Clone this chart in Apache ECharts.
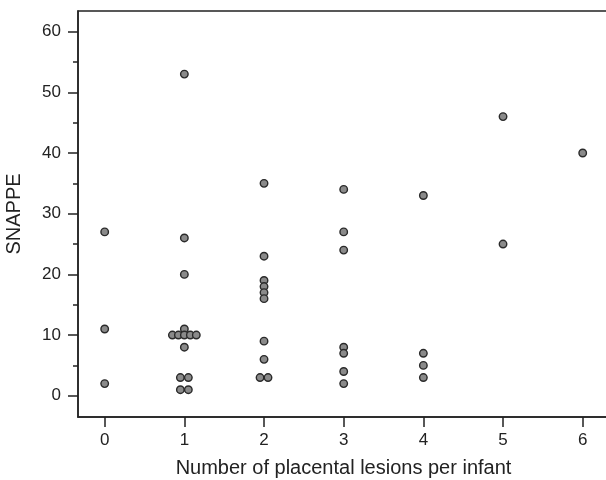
<!DOCTYPE html>
<html>
<head>
<meta charset="utf-8">
<style>html,body{margin:0;padding:0;background:#fff;}#c{width:606px;height:480px;}</style>
<script src="https://cdn.jsdelivr.net/npm/echarts@6/dist/echarts.min.js"></script>
</head>
<body>
<div id="c"></div>
<script>
// Number of placental lesions per infant (with small dodge offsets for overlapping points)
var lesions = [
  0, 0, 0,
  1, 1, 1, 1, 0.85, 0.925, 1, 1.075, 1.15, 1, 0.95, 1.05, 0.95, 1.05,
  2, 2, 2, 2, 2, 2, 2, 2, 1.95, 2.05,
  3, 3, 3, 3, 3, 3, 3,
  4, 4, 4, 4,
  5, 5,
  6
];
var snappe = [
  27, 11, 2,
  53, 26, 20, 11, 10, 10, 10, 10, 10, 8, 3, 3, 1, 1,
  35, 23, 19, 18, 17, 16, 9, 6, 3, 3,
  34, 27, 24, 8, 7, 4, 2,
  33, 7, 5, 3,
  46, 25,
  40
];
var xTicks = [0, 1, 2, 3, 4, 5, 6];
var yTicks = [0, 10, 20, 30, 40, 50, 60];
var yMinorTicks = [5, 15, 25, 35, 45, 55];

var points = lesions.map(function (x, i) { return [x, snappe[i]]; });
var font = 'Arial, "Liberation Sans", Helvetica, sans-serif';
var ink = '#222';
var gridBox = {left: 78, top: 11, right: -3, bottom: 63, outerBoundsMode: 'none', containLabel: false};

var chart = echarts.init(document.getElementById('c'), null, {renderer: 'canvas'});
chart.setOption({
  animation: false,
  grid: [
    Object.assign({show: true, borderColor: ink, borderWidth: 1.5, backgroundColor: 'transparent'}, gridBox),
    Object.assign({show: false}, gridBox)
  ],
  xAxis: [{
    gridIndex: 0, type: 'value', min: -0.335, max: 6.33,
    name: 'Number of placental lesions per infant', nameLocation: 'middle', nameGap: 41,
    nameTextStyle: {fontFamily: font, fontSize: 20, color: ink},
    axisLine: {show: true, onZero: false, lineStyle: {color: ink, width: 1.5}},
    axisTick: {show: true, length: 10, lineStyle: {color: ink, width: 1.5}, customValues: xTicks},
    axisLabel: {fontFamily: font, fontSize: 17, color: ink, margin: 15, customValues: xTicks},
    splitLine: {show: false}
  }, {
    gridIndex: 1, type: 'value', min: -0.335, max: 6.33, show: false
  }],
  yAxis: [{
    gridIndex: 0, type: 'value', min: -3.5, max: 63.4,
    name: 'SNAPPE', nameLocation: 'middle', nameGap: 54,
    nameTextStyle: {fontFamily: font, fontSize: 20, color: ink},
    axisLine: {show: true, onZero: false, lineStyle: {color: ink, width: 1.5}},
    axisTick: {show: true, length: 10, lineStyle: {color: ink, width: 1.5}, customValues: yTicks},
    axisLabel: {fontFamily: font, fontSize: 17, color: ink, margin: 17, customValues: yTicks},
    splitLine: {show: false}
  }, {
    gridIndex: 1, type: 'value', min: -3.5, max: 63.4, position: 'left', offset: 0,
    axisLine: {show: false, onZero: false},
    axisTick: {show: true, length: 5, lineStyle: {color: ink, width: 1.5}, customValues: yMinorTicks},
    axisLabel: {show: false},
    splitLine: {show: false}
  }],
  series: [{
    type: 'scatter',
    xAxisIndex: 0, yAxisIndex: 0,
    data: points,
    symbol: 'circle',
    symbolSize: 7.5,
    itemStyle: {color: '#8a8a8a', borderColor: '#2a2a2a', borderWidth: 1.4, opacity: 1}
  }]
});
</script>
</body>
</html>
